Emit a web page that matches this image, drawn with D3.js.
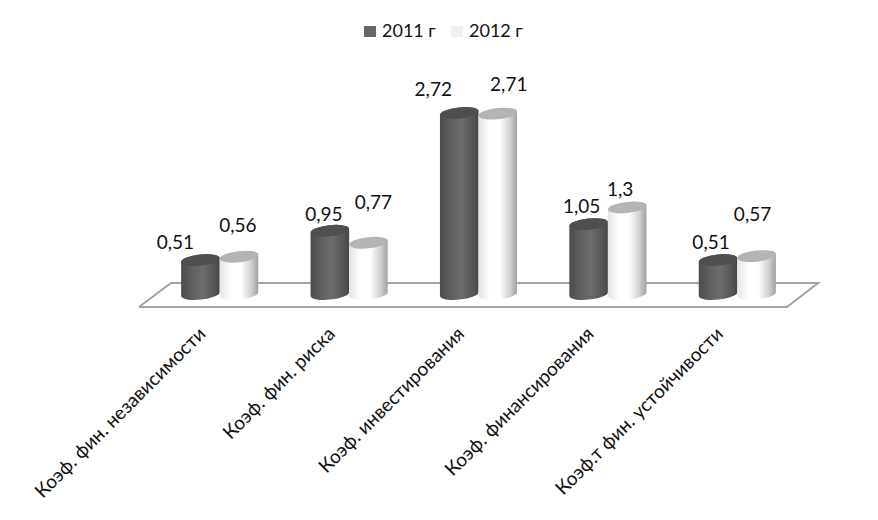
<!DOCTYPE html>
<html><head><meta charset="utf-8">
<script src="https://cdn.jsdelivr.net/npm/d3@7"></script>
<style>html,body{margin:0;background:#fff}svg{display:block}text{font-family:Lato,Carlito,"Open Sans",sans-serif;fill:#111}</style>
</head><body><svg id="c" width="878" height="520"></svg>
<script>
const categories=["Коэф. фин. независимости","Коэф. фин. риска","Коэф. инвестирования","Коэф. финансирования","Коэф.т фин. устойчивости"];
const seriesNames=["2011 г","2012 г"];
const values2011=[0.51,0.95,2.72,1.05,0.51];
const values2012=[0.56,0.77,2.71,1.3,0.57];
const labels2011=["0,51","0,95","2,72","1,05","0,51"];
const labels2012=["0,56","0,77","2,71","1,3","0,57"];
const labelNudge2011=[[-25,-11],[-6,-10],[-26,-17],[-7,-11],[-7,-11]];
const labelNudge2012=[[-1,-25],[5,-34],[11,-23],[-7,-11],[-4,-35]];

const svg=d3.select("#c");
const x=d3.scaleBand().domain(categories).range([155,802]);
const xs=d3.scaleBand().domain(seriesNames).range([0,77]);
const y=d3.scaleLinear().domain([0,2.72]).range([294,113]);
const groupLeft=c=>x(c)+x.bandwidth()/2-38.5;

const defs=svg.append("defs");
function grad(id,stops){
  const g=defs.append("linearGradient").attr("id",id);
  stops.forEach(s=>g.append("stop").attr("offset",s[0]).attr("stop-color",s[1]));
}
grad("g0",[[0,"#4c4c4c"],[.3,"#606060"],[.55,"#6c6c6c"],[.85,"#565656"],[1,"#464646"]]);
grad("g1",[[0,"#e4e4e4"],[.3,"#ffffff"],[.55,"#ffffff"],[.82,"#d0d0d0"],[1,"#a0a0a0"]]);

// floor
svg.append("path").attr("d",d3.line()([[139,307],[171,283],[818,283],[787,307],[139,307]]))
  .attr("fill","#fff").attr("stroke","#a3a3a3").attr("stroke-width",2);

const rx=19.3,ry=5.6,rot=-6,tilt=2;
function body(cx,top,base){
  return `M${cx-rx},${top+tilt}A${rx},${ry} ${rot} 0 1 ${cx+rx},${top-tilt}L${cx+rx},${base-tilt}A${rx},${ry} ${rot} 0 1 ${cx-rx},${base+tilt}Z`;
}
const series=[
  {name:seriesNames[0],v:values2011,l:labels2011,n:labelNudge2011,fill:"url(#g0)",cap:"#4f4f4f"},
  {name:seriesNames[1],v:values2012,l:labels2012,n:labelNudge2012,fill:"url(#g1)",cap:"#b4b4b4"}
];
series.forEach(s=>{
  const g=svg.append("g");
  categories.forEach((c,i)=>{
    const cx=groupLeft(c)+xs(s.name)+xs.bandwidth()/2,top=y(s.v[i]),base=y(0);
    g.append("path").attr("d",body(cx,top,base)).attr("fill",s.fill);
    g.append("ellipse").attr("rx",rx).attr("ry",ry).attr("fill",s.cap)
      .attr("transform",`translate(${cx},${top}) rotate(${rot})`);
  });
});
series.forEach(s=>{
  categories.forEach((c,i)=>{
    const cx=groupLeft(c)+xs(s.name)+xs.bandwidth()/2;
    svg.append("text").attr("x",cx+s.n[i][0]).attr("y",y(s.v[i])+s.n[i][1])
      .attr("text-anchor","middle").attr("font-size",19).text(s.l[i]);
  });
});
// category axis labels
categories.forEach(c=>{
  const cx=x(c)+x.bandwidth()/2;
  svg.append("text").attr("text-anchor","end").attr("font-size",19)
    .attr("transform",`translate(${cx-13},335) rotate(-45)`).text(c);
});
// legend
const lg=[[364,382],[451,469]];
series.forEach((s,i)=>{
  svg.append("rect").attr("x",lg[i][0]).attr("y",26).attr("width",12).attr("height",11)
    .attr("fill",i?"#f0f0f0":"#666666");
  svg.append("text").attr("x",lg[i][1]).attr("y",37).attr("font-size",18).text(s.name);
});
</script></body></html>
